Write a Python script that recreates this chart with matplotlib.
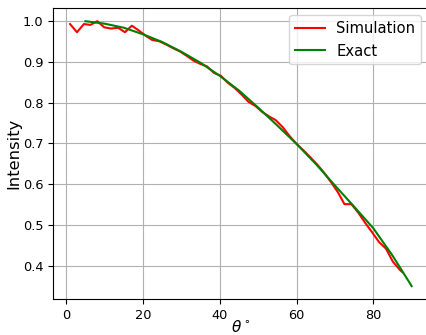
import matplotlib
matplotlib.use("Agg")
import matplotlib.pyplot as plt

# Simulation (red)
sim_theta = [1.0, 2.8, 4.6, 6.3, 8.1, 9.9, 11.7, 13.5, 15.3, 17.1,
             18.8, 20.6, 22.4, 24.2, 26.0, 27.8, 29.6, 31.4, 33.2, 35.0,
             36.7, 38.5, 40.3, 42.1, 43.9, 45.7, 47.5, 49.3, 51.1, 52.9,
             54.6, 56.4, 58.2, 60.0, 61.8, 63.6, 65.4, 67.2, 69.0, 70.8,
             72.5, 74.3, 76.1, 77.9, 79.7, 81.5, 83.3, 85.1, 86.9, 87.6]
sim_intensity = [0.993, 0.973, 0.993, 0.991, 1.000, 0.985, 0.982, 0.984, 0.973, 0.989,
                 0.978, 0.965, 0.954, 0.951, 0.943, 0.934, 0.926, 0.915, 0.903, 0.895,
                 0.889, 0.873, 0.866, 0.849, 0.836, 0.820, 0.802, 0.792, 0.777, 0.766,
                 0.757, 0.740, 0.718, 0.699, 0.683, 0.666, 0.648, 0.628, 0.605, 0.580,
                 0.551, 0.551, 0.530, 0.505, 0.482, 0.458, 0.442, 0.410, 0.390, 0.384]

# Exact curve (green)
exact_theta = [5, 10, 15, 20, 25, 30, 35, 40, 45, 50, 55, 60, 65, 70, 75, 80, 85, 90]
exact_intensity = [1.000, 0.994, 0.984, 0.968, 0.949, 0.925, 0.898, 0.866, 0.830,
                   0.788, 0.744, 0.699, 0.650, 0.597, 0.545, 0.492, 0.425, 0.350]

fig = plt.figure(figsize=(4.26, 3.35), dpi=100)
ax = fig.add_axes([0.1244, 0.1066, 0.882, 0.8696])
ax.plot(sim_theta, sim_intensity, color='red', label='Simulation')
ax.plot(exact_theta, exact_intensity, color='green', label='Exact')
ax.set_xlim(-3.45, 94.45)
ax.set_ylim(0.3175, 1.0325)
ax.tick_params(labelsize=9.3)
ax.set_xlabel(r'$\theta^\circ$', fontsize=11, labelpad=-2)
ax.set_ylabel('Intensity', fontsize=11.8, labelpad=1.0)
ax.legend(loc='upper right', fontsize=10.6)
ax.grid(True)
fig.savefig('out.png', dpi=100)
